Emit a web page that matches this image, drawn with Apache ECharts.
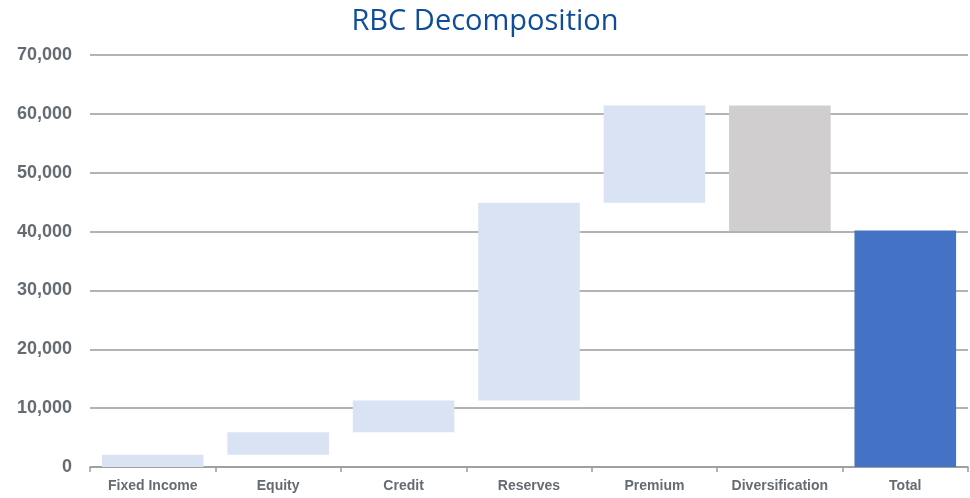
<!DOCTYPE html>
<html>
<head>
<meta charset="utf-8">
<script src="https://cdn.jsdelivr.net/npm/echarts@6/dist/echarts.min.js"></script>
<style>
  html, body { margin: 0; padding: 0; background: #fff; }
  #chart { width: 970px; height: 498px; }
</style>
</head>
<body>
<div id="chart"></div>
<script>
// Risk-based capital components, in order along the waterfall
const categories = ['Fixed Income', 'Equity', 'Credit', 'Reserves', 'Premium', 'Diversification', 'Total'];
// Individual charges that build up the gross requirement
const charges = [2100, 3800, 5400, 33600, 16500];
// Diversification credit (reduces the gross amount)
const diversification = -21300;
// Resulting total requirement
const total = 40200;
const yTicks = [0, 10000, 20000, 30000, 40000, 50000, 60000, 70000];

// Build invisible offsets and visible heights for the floating bars
const base = [];
const height = [];
let running = 0;
charges.forEach(v => { base.push(running); height.push(v); running += v; });
base.push(running + diversification);
height.push(-diversification);
base.push(0);
height.push(total);

const colors = ['#DAE3F3', '#DAE3F3', '#DAE3F3', '#DAE3F3', '#DAE3F3', '#D0CECE', '#4472C4'];

const chart = echarts.init(document.getElementById('chart'));
chart.setOption({
  animation: false,
  title: {
    text: 'RBC Decomposition',
    left: 'center',
    top: 2,
    textStyle: { fontFamily: 'Open Sans', fontWeight: 'normal', fontSize: 29, color: '#0F4C9A' }
  },
  grid: { left: 90, right: 2, top: 55, bottom: 31 },
  xAxis: {
    type: 'category',
    data: categories,
    axisLine: { lineStyle: { color: '#9a9a9a', width: 1.5 } },
    axisTick: { show: true, length: 5, lineStyle: { color: '#9a9a9a', width: 1.5 } },
    axisLabel: { color: '#656b72', fontFamily: 'Liberation Sans', fontWeight: 'bold', fontSize: 14, margin: 12 }
  },
  yAxis: {
    type: 'value',
    min: yTicks[0],
    max: yTicks[yTicks.length - 1],
    interval: 10000,
    axisLine: { show: false },
    axisTick: { show: false },
    splitLine: { lineStyle: { color: '#9a9a9a', width: 1.5 } },
    axisLabel: {
      color: '#656b72', fontFamily: 'Liberation Sans', fontWeight: 'bold', fontSize: 18, margin: 18,
      formatter: v => v.toLocaleString('en-US')
    }
  },
  series: [
    {
      type: 'bar', stack: 'w', barWidth: '81%',
      itemStyle: { color: 'transparent' },
      emphasis: { disabled: true },
      data: base
    },
    {
      type: 'bar', stack: 'w', barWidth: '81%',
      data: height.map((v, i) => ({ value: v, itemStyle: { color: colors[i] } }))
    }
  ]
});
</script>
</body>
</html>
